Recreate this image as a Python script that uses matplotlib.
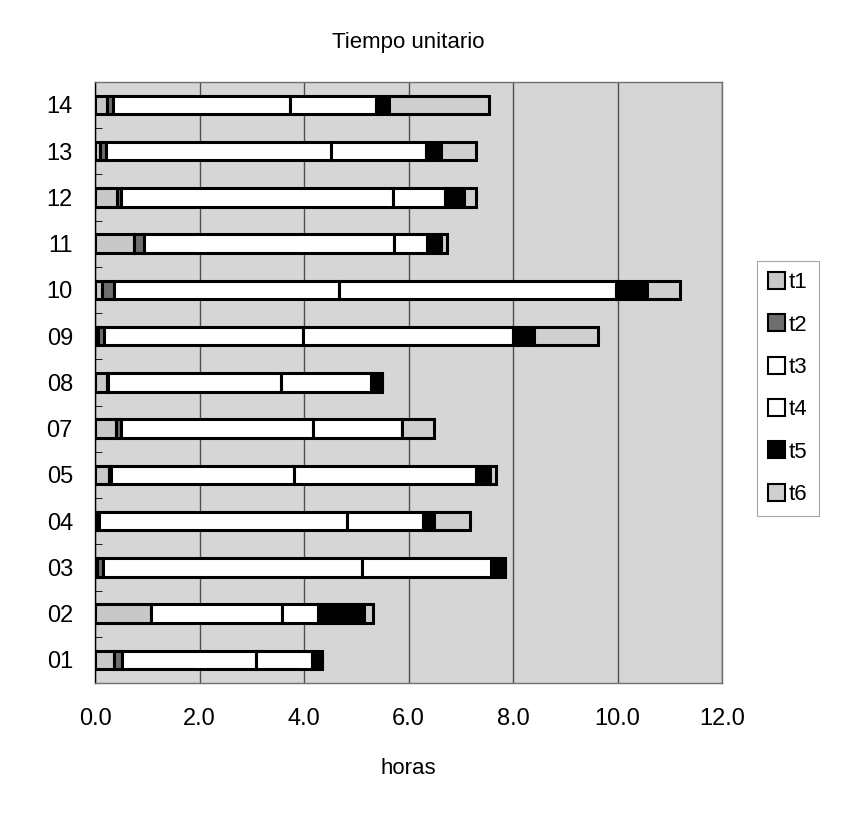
import matplotlib
matplotlib.use("Agg")
import matplotlib.pyplot as plt
import numpy as np

plt.rcParams['font.family'] = ['Liberation Sans', 'DejaVu Sans']

# categories bottom to top
labels = ["01", "02", "03", "04", "05", "07", "08", "09", "10", "11", "12", "13", "14"]

# hours per stage, same order as labels
t1 = [0.36, 1.07, 0.03, 0.03, 0.27, 0.40, 0.23, 0.05, 0.13, 0.75, 0.42, 0.10, 0.22]
t2 = [0.16, 0.00, 0.12, 0.05, 0.03, 0.10, 0.02, 0.12, 0.23, 0.19, 0.08, 0.10, 0.13]
t3 = [2.56, 2.51, 4.95, 4.75, 3.50, 3.68, 3.31, 3.80, 4.31, 4.79, 5.21, 4.32, 3.38]
t4 = [1.08, 0.69, 2.47, 1.45, 3.50, 1.70, 1.73, 4.02, 5.31, 0.63, 0.99, 1.82, 1.64]
t5 = [0.19, 0.88, 0.28, 0.20, 0.25, 0.00, 0.21, 0.42, 0.59, 0.27, 0.37, 0.29, 0.26]
t6 = [0.00, 0.16, 0.00, 0.70, 0.13, 0.60, 0.00, 1.21, 0.62, 0.11, 0.23, 0.67, 1.90]

series = [("t1", t1, "#c8c8c8"),
          ("t2", t2, "#6e6e6e"),
          ("t3", t3, "#ffffff"),
          ("t4", t4, "#ffffff"),
          ("t5", t5, "#000000"),
          ("t6", t6, "#cfcfcf")]


def run():
    fig = plt.figure(figsize=(8.57, 8.26), dpi=100)
    ax = fig.add_axes([0.111, 0.173, 0.7315, 0.728])
    ax.set_facecolor("#d6d6d6")

    y = np.arange(len(labels))
    left = np.zeros(len(labels))
    for name, vals, col in series:
        vals = np.array(vals)
        ax.barh(y, vals, left=left, height=0.40, color=col, edgecolor="black",
                linewidth=2.2, label=name, zorder=3)
        left += vals

    ax.set_xlim(0, 12)
    ax.set_ylim(-0.5, len(labels) - 0.5)
    ax.set_xticks(np.arange(0, 13, 2))
    ax.set_xticklabels(["%.1f" % v for v in np.arange(0, 13, 2)], fontsize=17)
    ax.set_yticks(y)
    ax.set_yticklabels(labels, fontsize=17)
    ax.set_yticks(np.arange(-0.5, len(labels), 1), minor=True)
    ax.tick_params(axis="y", which="major", length=0, pad=16)
    ax.tick_params(axis="y", which="minor", length=5, direction="in", color="black")
    ax.tick_params(axis="x", length=0, pad=18)

    ax.xaxis.grid(True, color="#505050", linewidth=1.0, zorder=0)
    ax.set_axisbelow(True)
    for s in ax.spines.values():
        s.set_color("#707070")
        s.set_linewidth(1.0)
    ax.spines["left"].set_color("black")

    ax.set_title("Tiempo unitario", fontsize=16, pad=24)
    ax.set_xlabel("horas", fontsize=16, labelpad=20)

    leg = ax.legend(loc="center left", bbox_to_anchor=(1.055, 0.49), fontsize=16,
                    frameon=True, fancybox=False, handlelength=0.8, handleheight=0.8,
                    handletextpad=0.15, labelspacing=0.95, borderaxespad=0.0,
                    borderpad=0.5)
    leg.get_frame().set_edgecolor("#909090")
    leg.get_frame().set_linewidth(0.8)
    for h in leg.legend_handles:
        h.set_linewidth(1.5)

    fig.savefig("out.png", dpi=100)


if __name__ == "__main__":
    run()
